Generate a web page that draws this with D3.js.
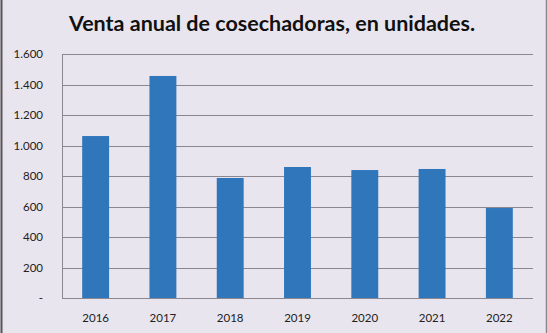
<!DOCTYPE html>
<html><head><meta charset="utf-8">
<script src="https://cdn.jsdelivr.net/npm/d3@7"></script>
<style>html,body{margin:0;padding:0;background:#e9e5ee;}svg{display:block;}</style>
</head><body>
<svg id="c" width="548" height="333"></svg>
<script>
const years = ["2016","2017","2018","2019","2020","2021","2022"];
const ventas = [1062, 1456, 787, 859, 839, 846, 590];
const yTicks = [0, 200, 400, 600, 800, 1000, 1200, 1400, 1600];
const title = "Venta anual de cosechadoras, en unidades.";

const svg = d3.select("#c");
const W = 548, H = 333;
const m = {left: 62, right: 15, top: 54, bottom: 35};

svg.append("rect").attr("x",0).attr("y",0).attr("width",W).attr("height",H).attr("fill","#e9e5ee");
svg.append("line").attr("x1",1.5).attr("x2",1.5).attr("y1",0).attr("y2",H).attr("stroke","#555").attr("stroke-width",2);
svg.append("line").attr("x1",546.5).attr("x2",546.5).attr("y1",0).attr("y2",H).attr("stroke","#888").attr("stroke-width",1.5);

const x = d3.scaleBand().domain(years).range([m.left, W - m.right]).paddingInner(0.6).paddingOuter(0.3);
const y = d3.scaleLinear().domain([0,1600]).range([H - m.bottom, m.top]);

const fmt = v => v === 0 ? "-" : d3.format(",")(v).replace(/,/g, ".");

// gridlines
svg.append("g").selectAll("line").data(yTicks).join("line")
  .attr("x1", m.left).attr("x2", W - m.right)
  .attr("y1", d => Math.round(y(d)) + 0.5).attr("y2", d => Math.round(y(d)) + 0.5)
  .attr("stroke", "#8a8790").attr("stroke-width", 1);

// y axis line
svg.append("line").attr("x1", m.left + 0.5).attr("x2", m.left + 0.5)
  .attr("y1", y(1600)).attr("y2", y(0)).attr("stroke", "#8a8790");

// bars
svg.append("g").selectAll("rect").data(years).join("rect")
  .attr("x", d => x(d)).attr("width", x.bandwidth())
  .attr("y", (d,i) => y(ventas[i])).attr("height", (d,i) => y(0) - y(ventas[i]))
  .attr("fill", "#2f76bb");

// y labels
svg.append("g").selectAll("text").data(yTicks).join("text")
  .attr("x", 43).attr("y", d => y(d)).attr("dy", "0.35em")
  .attr("text-anchor", "end")
  .attr("font-family", "Lato, 'Open Sans', sans-serif").attr("font-size", 11.5)
  .attr("fill", "#222").text(fmt);

// x labels
svg.append("g").selectAll("text").data(years).join("text")
  .attr("x", d => x(d) + x.bandwidth()/2).attr("y", 322)
  .attr("text-anchor", "middle")
  .attr("font-family", "Lato, 'Open Sans', sans-serif").attr("font-size", 11.5)
  .attr("fill", "#222").text(d => d);

svg.append("text").attr("x", 272).attr("y", 31).attr("text-anchor", "middle")
  .attr("font-family", "Lato, 'Open Sans', sans-serif").attr("font-weight", "bold")
  .attr("font-size", 21.5).attr("fill", "#111").text(title);
</script>
</body></html>
